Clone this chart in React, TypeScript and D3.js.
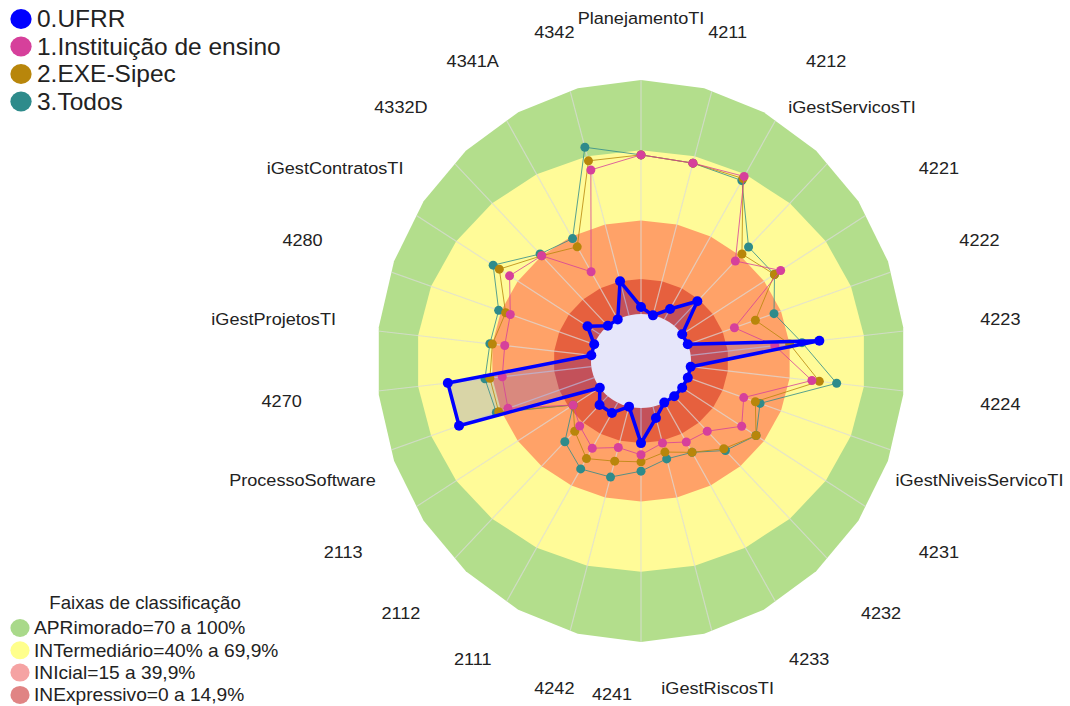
import React from "react";
import * as d3 from "d3";

// ---------- data ----------
const axes = [
  "PlanejamentoTI", "4211", "4212", "iGestServicosTI", "4221", "4222", "4223", "4224",
  "iGestNiveisServicoTI", "4231", "4232", "4233", "iGestRiscosTI", "4241", "4242",
  "2111", "2112", "2113", "ProcessoSoftware", "4270", "iGestProjetosTI", "4280",
  "iGestContratosTI", "4332D", "4341A", "4342",
];

const ufrr = [3, 0, 5, 14, 0, 0, 52, 0, 0, 0, 0, 0, 5, 15, 0, 5, 5, 0, 58, 58, 0, 0, 6, 0, 0, 15];
const instituicao = [68, 67, 69, 37, 48, 20, 34, 49, 24, 29, 20, 19, 16, 20, 18, 22, 17, 13, 37, 36, 35, 36, 44, 40, 23, 64];
const exeSipec = [68, 67, 68, 41, 45, 29, 40, 52, 29, 36, 30, 24, 20, 23, 24, 27, 20, 13, 41, 41, 40, 38, 49, 40, 35, 68];
const todos = [68, 67, 67, 45, 45, 37, 45, 59, 31, 36, 31, 24, 23, 27, 31, 32, 26, 13, 42, 43, 41, 41, 52, 41, 39, 74];

const seriesNames = ["0.UFRR", "1.Instituição de ensino", "2.EXE-Sipec", "3.Todos"];
const seriesColors = ["#0000ff", "#d6409b", "#b8860b", "#2e8b8b"];

const bandTitle = "Faixas de classificação";
const bandLabels = ["APRimorado=70 a 100%", "INTermediário=40% a 69,9%", "INIcial=15 a 39,9%", "INExpressivo=0 a 14,9%"];
const bandLimits = [100, 70, 40, 15];
const bandColors = ["#b3de8c", "#fffb98", "#ffa268", "#e6603e"];
const bandLegendColors = ["#a9d98a", "#ffff8c", "#f5a3a3", "#e08484"];

// ---------- layout ----------
const W = 1070, H = 706;
const cx = 641, cy = 361;
const R = 281, R0 = 47, SX = 1.065;
const OUTER_SX = 0.94; // the outermost band is drawn narrower horizontally
const LRX = 362, LRY = 338, LCY = 360;
const labelNudge: Record<number, number> = { 2: 17, 3: -29, 12: -10, 13: -29, 20: -8, 22: -8 };
const labelNudgeY: Record<number, number> = { 0: -4, 7: 3, 13: -4 };

const n = axes.length;
const rScale = d3.scaleLinear().domain([0, 100]).range([R0, R]);
const ang = (i: number) => (i * 2 * Math.PI) / n;
const pt = (i: number, v: number, sx = SX): [number, number] => {
  const r = rScale(v);
  const a = ang(i);
  return [cx + sx * r * Math.sin(a), cy - r * Math.cos(a)];
};

const closed = d3.line().curve(d3.curveLinearClosed);
const ring = (v: number, sx = SX) => closed(axes.map((_, i) => pt(i, v, sx))) as string;
const seriesPath = (vals: number[]) => closed(vals.map((v, i) => pt(i, v))) as string;

const FONT = "'Liberation Sans', Arial, sans-serif";

function StretchText({ x, y, size, anchor = "start", children, fill = "#222" }: any) {
  return (
    <g transform={`translate(${x},${y}) scale(${SX},1)`}>
      <text x={0} y={0} fontSize={size} fontFamily={FONT} textAnchor={anchor} dominantBaseline="central" fill={fill}>
        {children}
      </text>
    </g>
  );
}

export default function App() {
  const allSeries = [ufrr, instituicao, exeSipec, todos];
  const drawOrder = [3, 2, 1];
  return (
    <svg width={W} height={H} style={{ position: "absolute", left: 0, top: 0, background: "#fff" }}>
      <defs>
        <clipPath id="outerClip">
          <path d={ring(100, OUTER_SX)} />
        </clipPath>
      </defs>
      {/* bands */}
      {bandLimits.map((v, k) => (
        <path key={"b" + k} d={ring(v, k === 0 ? OUTER_SX : SX)} fill={bandColors[k]} stroke="none" />
      ))}
      {/* radial axis lines */}
      <g clipPath="url(#outerClip)">
        {axes.map((_, i) => {
          const [x1, y1] = pt(i, 0);
          const [x2, y2] = pt(i, 100);
          return <line key={"ax" + i} x1={x1} y1={y1} x2={x2} y2={y2} stroke="#dcdcdc" strokeOpacity={0.7} strokeWidth={1.2} />;
        })}
      </g>
      {/* UFRR fill, then centre hole */}
      <path d={seriesPath(ufrr)} fill="#0000ff" fillOpacity={0.15} stroke="none" />
      <ellipse cx={cx} cy={cy} rx={R0 * SX} ry={R0} fill="#e6e6fa" />
      {/* comparison series */}
      {drawOrder.map((s) => (
        <g key={"s" + s}>
          <path d={seriesPath(allSeries[s])} fill="none" stroke={seriesColors[s]} strokeWidth={1} strokeOpacity={0.8} />
          {allSeries[s].map((v, i) => {
            const [x, y] = pt(i, v);
            return <circle key={i} cx={x} cy={y} r={4.5} fill={seriesColors[s]} />;
          })}
        </g>
      ))}
      {/* UFRR */}
      <path d={seriesPath(ufrr)} fill="none" stroke="#0000ff" strokeWidth={3.5} strokeLinejoin="round" />
      {ufrr.map((v, i) => {
        const [x, y] = pt(i, v);
        return <circle key={"u" + i} cx={x} cy={y} r={5} fill="#0000ff" />;
      })}
      {/* axis labels */}
      {axes.map((name, i) => {
        const a = ang(i);
        const x = cx + LRX * Math.sin(a) + (labelNudge[i] || 0);
        const y = LCY - LRY * Math.cos(a) + (labelNudgeY[i] || 0);
        return (
          <StretchText key={"l" + i} x={x} y={y} size={17} anchor="middle">
            {name}
          </StretchText>
        );
      })}
      {/* series legend */}
      {seriesNames.map((name, k) => (
        <g key={"lg" + k}>
          <ellipse cx={21} cy={19 + k * 27.5} rx={10 * SX} ry={10} fill={seriesColors[k]} />
          <StretchText x={37} y={19 + k * 27.5} size={23}>
            {name}
          </StretchText>
        </g>
      ))}
      {/* band legend */}
      <StretchText x={145} y={603} size={17.5} anchor="middle">
        {bandTitle}
      </StretchText>
      {bandLabels.map((lab, k) => (
        <g key={"bl" + k}>
          <ellipse cx={20} cy={628 + k * 22.3} rx={9 * SX} ry={9} fill={bandLegendColors[k]} />
          <StretchText x={34} y={628 + k * 22.3} size={18}>
            {lab}
          </StretchText>
        </g>
      ))}
    </svg>
  );
}
